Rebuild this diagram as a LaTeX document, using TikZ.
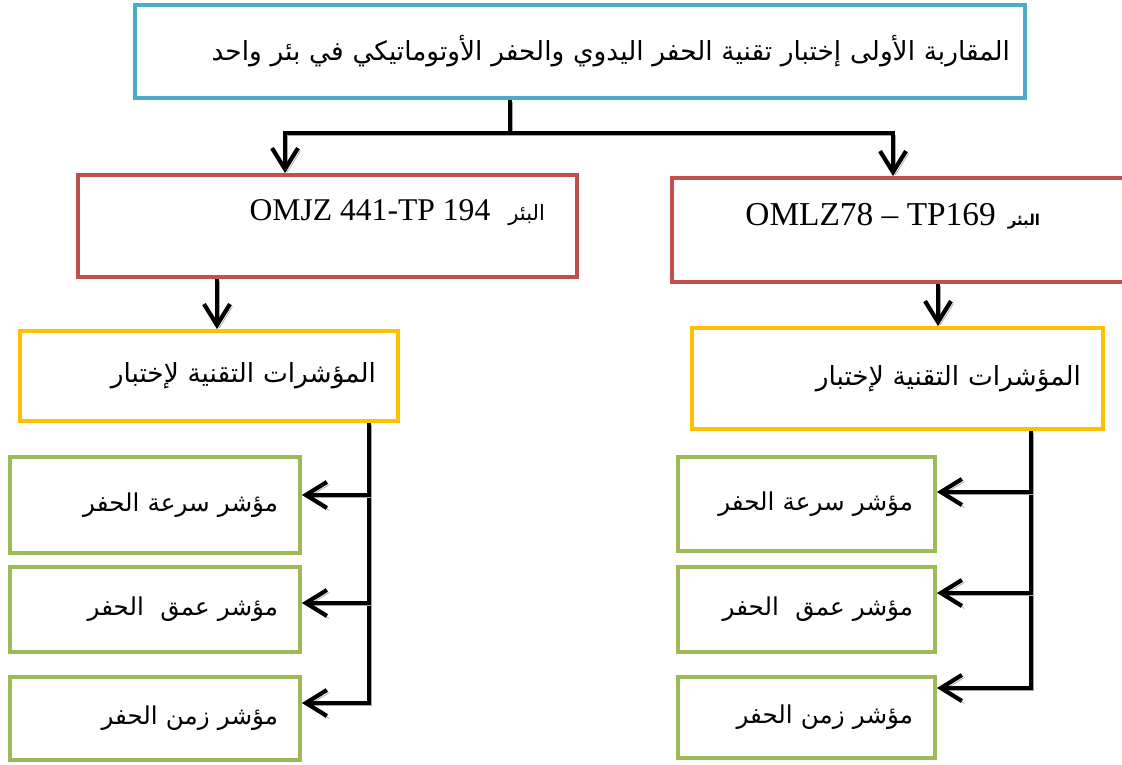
\documentclass[tikz,border=0pt]{standalone}
\usepackage{fontspec}
\setmainfont{Liberation Serif}
\newfontfamily\arabicfont[Script=Arabic]{DejaVu Sans}
\TeXXeTstate=1
\usetikzlibrary{arrows.meta}
\usepackage{xcolor}
\definecolor{Sky}{HTML}{4BACC6}
\definecolor{Brick}{HTML}{C0504D}
\definecolor{Amber}{HTML}{FFC000}
\definecolor{Olive}{HTML}{9BBB59}
\newcommand{\artxt}[1]{{\arabicfont\beginR #1\endR}}
\newcommand{\lat}[2][18]{\beginL{\rmfamily\mdseries\fontsize{#1}{22}\selectfont\spaceskip=.25em\relax #2}\endL}

\begin{document}
\begin{tikzpicture}[x=0.02cm,y=-0.02cm, barb/.tip={Straight Barb[length=0.42cm,width=0.52cm]},
  bx/.style={line width=2.2pt,inner xsep=0.44cm,inner ysep=0pt,align=right,font=\fontsize{15}{19}\selectfont},
  g/.style={bx,draw=Olive,font=\fontsize{14}{18}\selectfont},
  l/.style={line width=2.4pt,preaction={draw=black!35,transform canvas={shift={(0.05cm,-0.05cm)}}}},
  a/.style={l,-barb}]
    \useasboundingbox (0,0) rectangle (1122,764);
    \node[bx,draw=Sky,minimum width=17.8cm,minimum height=1.86cm,text width=17.2cm,inner xsep=0.3cm] (top) at (580,51.5) {\artxt{المقاربة الأولى إختبار تقنية الحفر اليدوي والحفر الأوتوماتيكي في بئر واحد}};
    \node[bx,draw=Brick,minimum width=9.98cm,minimum height=2.04cm,text width=9.1cm,text depth=0.64cm,font=\fontsize{12}{16}\selectfont] (wellL) at (327.5,226) {\artxt{البئر\hspace{0.36cm}\lat{OMJZ 441-TP 194}}\rule{0.2cm}{0pt}};
    \node[bx,draw=Brick,minimum width=9.98cm,minimum height=2.08cm,text width=9.1cm,text depth=0.64cm,font=\fontsize{8.5}{14}\selectfont\bfseries] (wellR) at (921.5,230) {\artxt{البئر\hspace{0.24cm}\lat[19]{OMLZ78 – TP169}}\rule{2.18cm}{0pt}};
    \node[bx,draw=Amber,minimum width=7.56cm,minimum height=1.8cm,text width=6.68cm] (indL) at (209,376) {\artxt{المؤشرات التقنية لإختبار}};
    \node[bx,draw=Amber,minimum width=8.22cm,minimum height=2.02cm,text width=7.34cm] (indR) at (897.5,378.5) {\artxt{المؤشرات التقنية لإختبار}};
    % fils gauche
    \node[g,minimum width=5.8cm,minimum height=1.92cm,text width=4.92cm] (gL1) at (155,505) {\artxt{مؤشر سرعة الحفر}};
    \node[g,minimum width=5.8cm,minimum height=1.7cm,text width=4.92cm] (gL2) at (155,609.5) {\artxt{مؤشر عمق \ الحفر}};
    \node[g,minimum width=5.8cm,minimum height=1.66cm,text width=4.92cm] (gL3) at (155,718.5) {\artxt{مؤشر زمن الحفر}};
    % fils droite
    \node[g,minimum width=5.14cm,minimum height=1.88cm,text width=4.26cm] (gR1) at (806.5,504) {\artxt{مؤشر سرعة الحفر}};
    \node[g,minimum width=5.14cm,minimum height=1.7cm,text width=4.26cm] (gR2) at (806.5,609.5) {\artxt{مؤشر عمق \ الحفر}};
    \node[g,minimum width=5.14cm,minimum height=1.62cm,text width=4.26cm] (gR3) at (806.5,717.5) {\artxt{مؤشر زمن الحفر}};
    % liaisons
    \coordinate (bus) at (510,133); \coordinate (busL) at (285,133); \coordinate (busR) at (893,133);
    \draw[l] (top.south -| bus) -- (bus);
    \draw[l,barb-barb] (busL |- wellL.north) -- (busL) -- (busR) -- (busR |- wellR.north);
    \coordinate (dL) at (217,0); \coordinate (dR) at (938,0);
    \draw[a] (wellL.south -| dL) -- (indL.north -| dL);
    \draw[a] (wellR.south -| dR) -- (indR.north -| dR);
    \foreach \n/\y in {1/495,2/603,3/703} \coordinate (tL\n) at (369,\y);
    \foreach \n/\y in {1/492,2/593,3/688} \coordinate (tR\n) at (1031,\y);
    \draw[a] (indL.south -| tL3) -- (tL3) -- (tL3 -| gL3.east);
    \draw[a] (indR.south -| tR3) -- (tR3) -- (tR3 -| gR3.east);
    \foreach \n in {1,2} {\draw[a] (tL\n) -- (tL\n -| gL\n.east); \draw[a] (tR\n) -- (tR\n -| gR\n.east);}
  \end{tikzpicture}
\end{document}
